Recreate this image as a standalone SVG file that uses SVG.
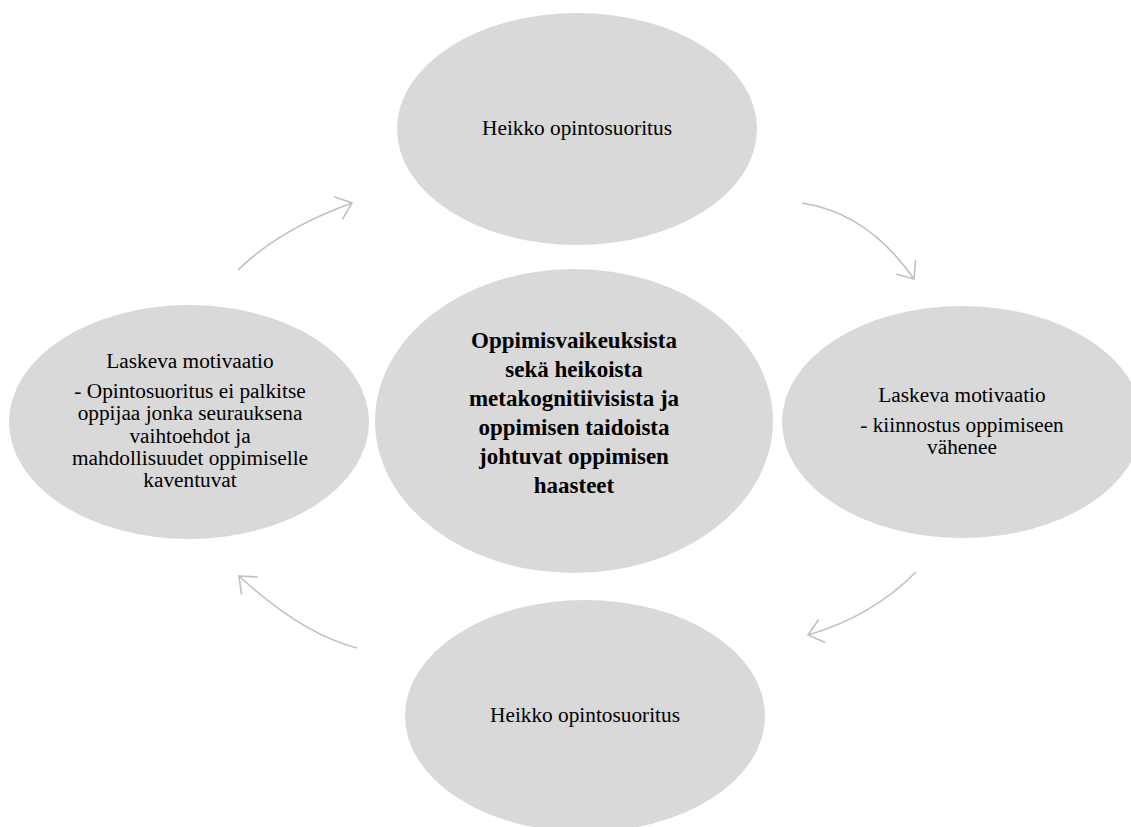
<svg xmlns="http://www.w3.org/2000/svg" width="1131" height="827" viewBox="0 0 1131 827">
  <defs>
    <style>
      .bubble { fill: #d9d9d9; }
      .label { font-family: 'Liberation Serif', Tinos, 'Times New Roman', 'DejaVu Serif', serif; font-size: 21.3px; fill: #000; text-anchor: middle; }
      .core { font-family: 'Liberation Serif', Tinos, 'Times New Roman', 'DejaVu Serif', serif; font-size: 23px; font-weight: bold; fill: #000; text-anchor: middle; }
      .flow { fill: none; stroke: #c0c0c0; stroke-width: 1.6; marker-end: url(#chevron); }
    </style>
    <marker id="chevron" markerUnits="userSpaceOnUse" markerWidth="30" markerHeight="30" viewBox="-20 -15 24 30" refX="0" refY="0" orient="auto">
      <path d="M-14.5,-12 L0,0 L-14.5,12" fill="none" stroke="#c0c0c0" stroke-width="1.6"/>
    </marker>
  </defs>

  <rect width="1131" height="827" fill="#ffffff"/>

  <!-- cycle connectors -->
  <g id="connectors">
    <path class="flow" d="M238,270 Q279,229.5 352,203"/>
    <path class="flow" d="M802,203 Q868,213 914,279"/>
    <path class="flow" d="M916,572 Q872,616.5 808,635"/>
    <path class="flow" d="M357,648 Q302,634 239,576"/>
  </g>

  <g id="node-top">
    <ellipse class="bubble" cx="577" cy="129" rx="180" ry="116"/>
    <text class="label" x="577" y="135" font-family="Liberation Serif, serif">Heikko opintosuoritus</text>
  </g>

  <g id="node-right">
    <ellipse class="bubble" cx="962" cy="422" rx="180" ry="116"/>
    <text class="label" x="962" y="402" font-family="Liberation Serif, serif">Laskeva motivaatio</text>
    <text class="label" x="962" y="432" font-family="Liberation Serif, serif">- kiinnostus oppimiseen</text>
    <text class="label" x="962" y="454" font-family="Liberation Serif, serif">vähenee</text>
  </g>

  <g id="node-bottom">
    <ellipse class="bubble" cx="585" cy="716" rx="180" ry="116"/>
    <text class="label" x="585" y="722" font-family="Liberation Serif, serif">Heikko opintosuoritus</text>
  </g>

  <g id="node-left">
    <ellipse class="bubble" cx="189" cy="422" rx="180" ry="117"/>
    <text class="label" x="190" y="368" font-family="Liberation Serif, serif">Laskeva motivaatio</text>
    <text class="label" x="190" y="398" font-family="Liberation Serif, serif">- Opintosuoritus ei palkitse</text>
    <text class="label" x="190" y="420" font-family="Liberation Serif, serif">oppijaa jonka seurauksena</text>
    <text class="label" x="190" y="443" font-family="Liberation Serif, serif">vaihtoehdot ja</text>
    <text class="label" x="190" y="465" font-family="Liberation Serif, serif">mahdollisuudet oppimiselle</text>
    <text class="label" x="190" y="487" font-family="Liberation Serif, serif">kaventuvat</text>
  </g>

  <g id="node-center">
    <ellipse class="bubble" cx="574" cy="421" rx="199" ry="152"/>
    <text class="core" x="574" y="348" font-family="Liberation Serif, serif">Oppimisvaikeuksista</text>
    <text class="core" x="574" y="377" font-family="Liberation Serif, serif">sekä heikoista</text>
    <text class="core" x="574" y="406" font-family="Liberation Serif, serif">metakognitiivisista ja</text>
    <text class="core" x="574" y="435" font-family="Liberation Serif, serif">oppimisen taidoista</text>
    <text class="core" x="574" y="464" font-family="Liberation Serif, serif">johtuvat oppimisen</text>
    <text class="core" x="574" y="493" font-family="Liberation Serif, serif">haasteet</text>
  </g>
</svg>
